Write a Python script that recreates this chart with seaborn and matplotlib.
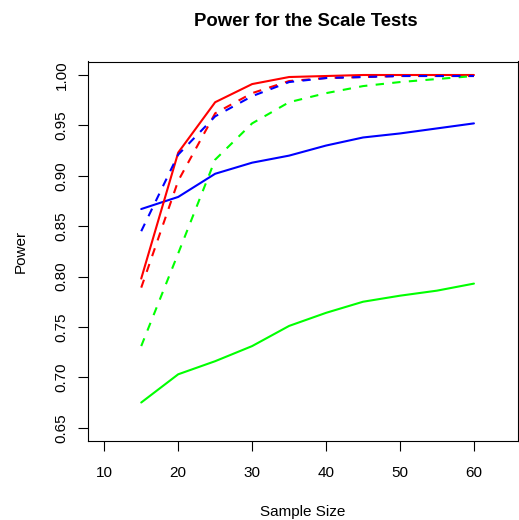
import numpy as np
import pandas as pd
import seaborn as sns
import matplotlib
matplotlib.use("Agg")
import matplotlib.pyplot as plt

# Sample sizes and estimated power for each scale test
sample_size = [15, 20, 25, 30, 35, 40, 45, 50, 55, 60]

green_solid = [0.675, 0.703, 0.716, 0.731, 0.751, 0.764, 0.775, 0.781, 0.786, 0.793]
blue_solid = [0.867, 0.879, 0.902, 0.913, 0.920, 0.930, 0.938, 0.942, 0.947, 0.952]
red_solid = [0.798, 0.923, 0.973, 0.991, 0.998, 0.999, 1.000, 1.000, 1.000, 1.000]
green_dashed = [0.731, 0.823, 0.916, 0.952, 0.973, 0.982, 0.989, 0.993, 0.996, 0.999]
red_dashed = [0.789, 0.895, 0.962, 0.982, 0.994, 0.997, 0.998, 0.999, 0.999, 0.999]
blue_dashed = [0.845, 0.921, 0.959, 0.979, 0.993, 0.997, 0.998, 0.999, 0.999, 0.999]

x_ticks = [10, 20, 30, 40, 50, 60]
y_ticks = [0.65, 0.70, 0.75, 0.80, 0.85, 0.90, 0.95, 1.00]

series = [
    ("green_solid", green_solid, "#00FF00", "-"),
    ("blue_solid", blue_solid, "#0000FF", "-"),
    ("red_solid", red_solid, "#FF0000", "-"),
    ("green_dashed", green_dashed, "#00FF00", "--"),
    ("red_dashed", red_dashed, "#FF0000", "--"),
    ("blue_dashed", blue_dashed, "#0000FF", "--"),
]

frames = []
for name, vals, _, _ in series:
    frames.append(pd.DataFrame({"n": sample_size, "power": vals, "test": name}))
df = pd.concat(frames, ignore_index=True)

sns.set_style("white")
plt.rcParams["font.family"] = ["Liberation Sans", "DejaVu Sans"]
plt.rcParams["text.color"] = "black"
plt.rcParams["axes.labelcolor"] = "black"

FS = 11.0

fig = plt.figure(figsize=(5.19, 5.20), dpi=100)
ax = fig.add_axes([88 / 519, 1 - 441 / 520, (518.3 - 88) / 519, (441 - 61.5) / 520])

for name, vals, color, ls in series:
    sub = df[df["test"] == name]
    sns.lineplot(data=sub, x="n", y="power", color=color, linewidth=1.5,
                 ax=ax, legend=False)
    line = ax.get_lines()[-1]
    if ls == "--":
        line.set_dashes((4, 4))

ax.set_xlim(7.8, 66.0)
ax.set_ylim(0.6368, 1.0134)
ax.set_xticks(x_ticks)
ax.set_yticks(y_ticks)
ax.set_xticklabels([str(t) for t in x_ticks], fontsize=FS)
ax.set_yticklabels([f"{t:.2f}" for t in y_ticks], fontsize=FS, rotation=90, va="center")

ax.tick_params(axis="both", direction="out", length=7, width=0.8, color="black",
               bottom=True, left=True, labelcolor="black")
ax.tick_params(axis="x", pad=11)
ax.tick_params(axis="y", pad=7)

for sp in ax.spines.values():
    sp.set_visible(True)
    sp.set_color("black")
    sp.set_linewidth(0.8)

ax.set_xlabel("Sample Size", fontsize=FS, labelpad=18, color="black")
ax.set_ylabel("Power", fontsize=FS, labelpad=19.5, color="black")
fig.text(306 / 519, 1 - 22 / 520, "Power for the Scale Tests",
         fontsize=13.3, fontweight="bold", ha="center", va="center", color="black")

fig.savefig("out.png", dpi=100)
